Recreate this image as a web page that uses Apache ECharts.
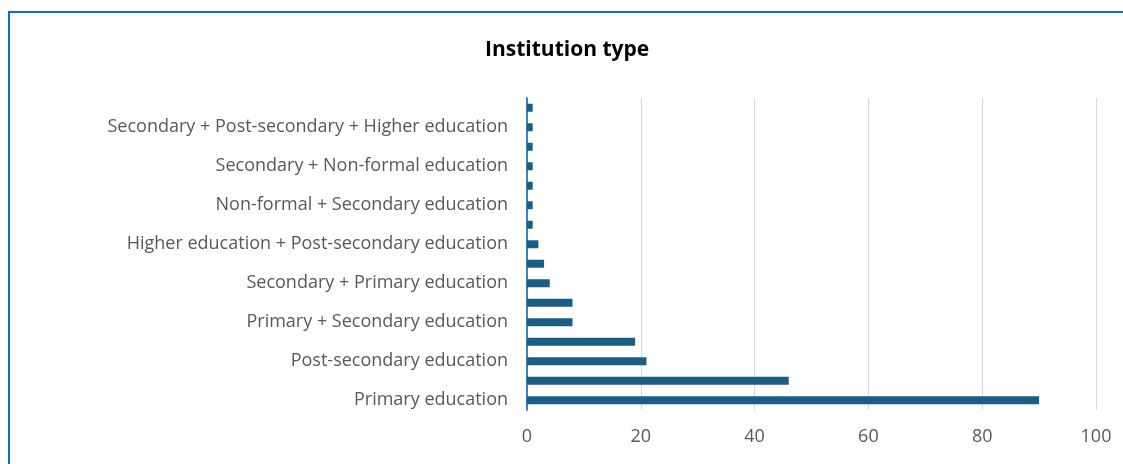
<!DOCTYPE html>
<html>
<head>
<meta charset="utf-8">
<script src="https://cdn.jsdelivr.net/npm/echarts@6/dist/echarts.min.js"></script>
<style>
  html, body { margin: 0; padding: 0; background: #fff; }
  #chart { width: 1123px; height: 464px; }
</style>
</head>
<body>
<div id="chart"></div>
<script>
// categories from bottom to top; only every other one is labelled in the picture
const categories = [
  'Primary education',
  'Secondary education',
  'Post-secondary education',
  'Higher education',
  'Primary + Secondary education',
  'Non-formal education',
  'Secondary + Primary education',
  'Primary + Non-formal education',
  'Higher education + Post-secondary education',
  'Post-secondary + Higher education',
  'Non-formal + Secondary education',
  'Primary + Secondary + Higher education',
  'Secondary + Non-formal education',
  'Higher + Secondary education',
  'Secondary + Post-secondary + Higher education',
  'Primary + Post-secondary education'
]
const counts = [90, 46, 21, 19, 8, 8, 4, 3, 2, 1, 1, 1, 1, 1, 1, 1]
const xTicks = [0, 20, 40, 60, 80, 100]

const chart = echarts.init(document.getElementById('chart'))

const option = {
  animation: false,
  title: {
    text: 'Institution type',
    left: 480,
    top: 35,
    textStyle: {
      fontFamily: 'Open Sans',
      fontWeight: 'bold',
      fontSize: 21,
      color: '#000'
    }
  },
  // outer frame of the chart (blue border, cut at right/bottom)
  graphic: [{
    type: 'rect',
    shape: { x: 9, y: 12, width: 1200, height: 500 },
    style: { fill: 'none', stroke: '#0A70C4', lineWidth: 2 },
    silent: true
  }],
  grid: {
    left: 527,
    right: 27,
    top: 98,
    bottom: 54
  },
  xAxis: {
    type: 'value',
    min: xTicks[0],
    max: xTicks[xTicks.length - 1],
    interval: 20,
    axisLine: { show: false },
    axisTick: { show: false },
    splitLine: { lineStyle: { color: '#D9D9D9', width: 1 } },
    axisLabel: {
      margin: 18,
      fontFamily: 'Open Sans',
      fontSize: 18,
      color: '#595959'
    }
  },
  yAxis: {
    type: 'category',
    data: categories,
    axisLine: { lineStyle: { color: '#2E86D6', width: 2 } },
    axisTick: { show: false },
    axisLabel: {
      interval: 1,
      margin: 19,
      padding: [6, 0, 0, 0],
      fontFamily: 'Open Sans',
      fontSize: 18,
      color: '#595959'
    }
  },
  series: [{
    type: 'bar',
    data: counts,
    barWidth: 8,
    itemStyle: { color: '#1B5E84' }
  }]
}

chart.setOption(option)
</script>
</body>
</html>
